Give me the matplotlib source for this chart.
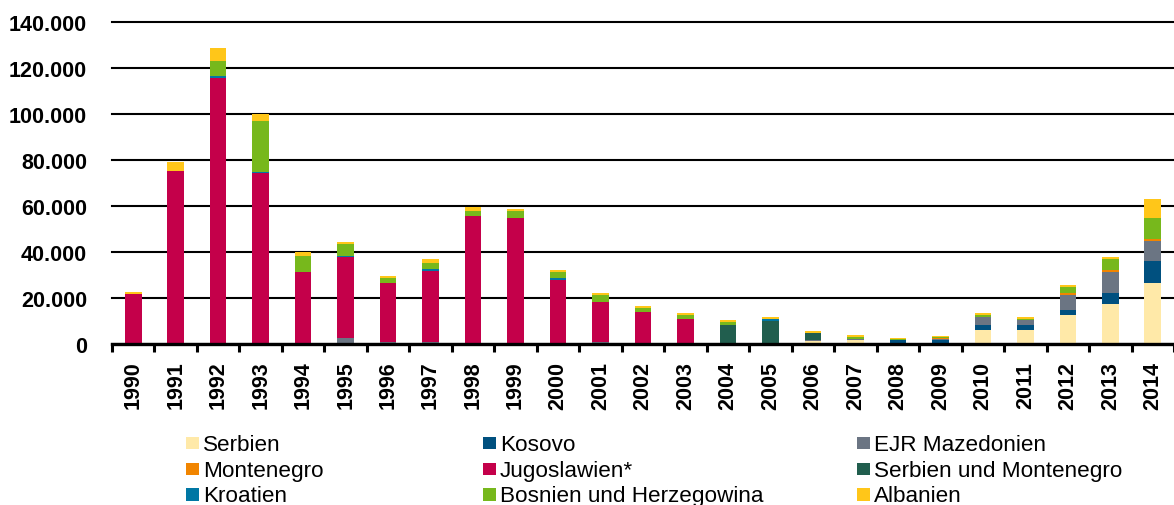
import matplotlib
matplotlib.use("Agg")
import matplotlib.pyplot as plt
from matplotlib.ticker import FuncFormatter, FixedLocator
from matplotlib.patches import Rectangle
import numpy as np

years = [str(y) for y in range(1990, 2015)]

serbien = [0, 0, 0, 0, 0, 0, 0, 0, 0, 0, 0, 0, 0, 0, 0, 0,
           1100, 1900, 0, 0, 6100, 6100, 12600, 17400, 26400]
kosovo = [0, 0, 0, 0, 0, 0, 0, 0, 0, 0, 0, 0, 0, 0, 0, 0,
          0, 0, 1600, 1600, 2300, 2300, 2300, 4900, 9800]
mazedonien = [0, 0, 0, 0, 0, 2500, 800, 800, 0, 0, 0, 900, 0, 0, 0, 0,
              600, 400, 0, 400, 3500, 1900, 6500, 8900, 8700]
montenegro = [0, 0, 0, 0, 0, 0, 0, 0, 0, 0, 0, 0, 0, 0, 0, 0,
              0, 0, 0, 400, 0, 0, 900, 800, 900]
jugoslawien = [21700, 75100, 115500, 74200, 31200, 35200, 25600, 31100, 55500,
               54800, 28000, 17400, 14000, 10900, 0, 0,
               0, 0, 0, 0, 0, 0, 0, 0, 0]
serb_mont = [0, 0, 0, 0, 0, 0, 0, 0, 0, 0, 0, 0, 0, 0, 8400, 10100,
             3200, 0, 0, 0, 0, 0, 0, 0, 0]
kroatien = [0, 0, 900, 800, 0, 700, 0, 700, 0, 0, 700, 0, 0, 0, 0, 800,
            0, 0, 0, 0, 0, 0, 0, 0, 0]
bosnien = [0, 0, 6500, 22000, 7200, 4900, 2400, 2600, 2300, 3000, 2500, 3000,
           1800, 1800, 1000, 0, 0, 700, 500, 500, 700, 700, 2600, 5000, 9000]
albanien = [700, 3900, 5800, 3100, 1700, 900, 900, 1800, 1900, 1000, 1000, 1000,
            900, 800, 900, 1000, 700, 700, 600, 500, 900, 900, 800, 800, 8200]

series_names = ["Serbien", "Kosovo", "EJR Mazedonien", "Montenegro", "Jugoslawien*",
                "Serbien und Montenegro", "Kroatien", "Bosnien und Herzegowina", "Albanien"]
series_values = [serbien, kosovo, mazedonien, montenegro, jugoslawien,
                 serb_mont, kroatien, bosnien, albanien]
colors = ["#FFE9A8", "#00507F", "#6B7583", "#F18500", "#C4004A",
          "#215E4E", "#0077A4", "#77B81C", "#FFC619"]

plt.rcParams['font.family'] = ['Liberation Sans', 'DejaVu Sans']

fig = plt.figure(figsize=(11.74, 5.06), dpi=100)
W, H = 1174, 506
ax = fig.add_axes([112 / W, 1 - 345 / H, 1 - 112 / W, (345 - 23) / H])

x = np.arange(len(years))
bottom = np.zeros(len(years))
for name, vals, c in zip(series_names, series_values, colors):
    v = np.array(vals, dtype=float)
    ax.bar(x, v, width=0.39, bottom=bottom, color=c, linewidth=0, zorder=3)
    bottom += v

ax.set_xlim(-0.5, len(years) - 0.5)
ax.set_ylim(0, 140000)
ax.set_yticks(np.arange(0, 140001, 20000))
ax.yaxis.set_major_formatter(FuncFormatter(lambda v, p: f"{int(v):,}".replace(",", ".")))
ax.grid(axis='y', color='black', linewidth=1.5, zorder=0)
ax.set_axisbelow(True)
for gl in ax.get_ygridlines():
    gl.set_clip_on(False)

for s in ['top', 'right', 'left']:
    ax.spines[s].set_visible(False)
ax.spines['bottom'].set_linewidth(2.4)
ax.spines['bottom'].set_zorder(5)

ax.set_xticks(x)
ax.set_xticklabels(years, rotation=90, fontsize=15.5, fontweight='bold')
ax.xaxis.set_minor_locator(FixedLocator(np.arange(-0.5, len(years), 1.0)))
ax.tick_params(axis='x', which='major', length=0, pad=12)
ax.tick_params(axis='x', which='minor', length=6, width=2.2, direction='out', color='black')
ax.tick_params(axis='y', length=0, pad=18, labelsize=15.5)
for lab in ax.get_yticklabels():
    lab.set_fontweight('bold')

# Legend (manual grid)
col_x = [186, 483, 857]
row_base = [451, 477, 502.5]
row_center = [444, 470, 495.7]
sq = 12.7
for i, (name, c) in enumerate(zip(series_names, colors)):
    r, cidx = divmod(i, 3)
    x0 = col_x[cidx]
    yc = row_center[r]
    fig.patches.append(Rectangle((x0 / W, 1 - (yc + sq / 2) / H), sq / W, sq / H,
                                 transform=fig.transFigure, facecolor=c,
                                 edgecolor='none'))
    fig.text((x0 + 17) / W, 1 - row_base[r] / H, name, fontsize=16.2,
             ha='left', va='baseline', color='black')

fig.savefig("out.png", dpi=100)
